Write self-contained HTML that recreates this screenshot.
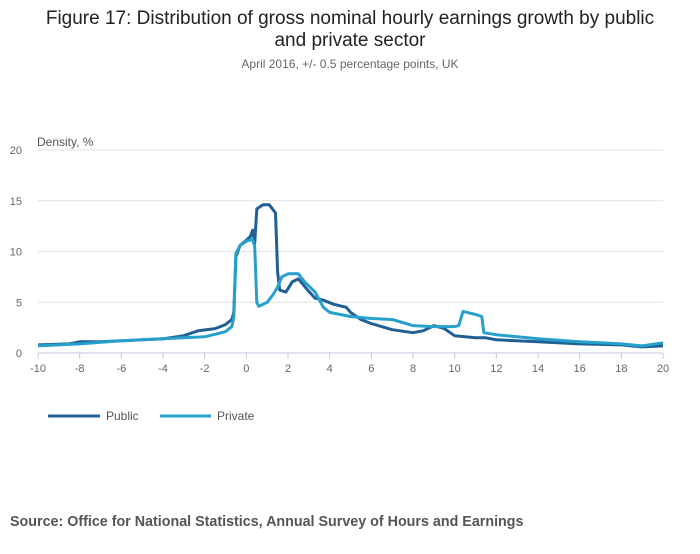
<!DOCTYPE html>
<html><head><meta charset="utf-8"><style>
body{margin:0;background:#fff;font-family:"Liberation Sans",sans-serif}
#wrap{position:relative;width:700px;height:549px}
</style></head><body>
<div id="wrap">
<svg id="c" width="700" height="549" font-family="Liberation Sans, sans-serif">
<text x="350" y="24" text-anchor="middle" font-size="19" fill="#222">Figure 17: Distribution of gross nominal hourly earnings growth by public</text>
<text x="350" y="46" text-anchor="middle" font-size="19" fill="#222">and private sector</text>
<text x="350" y="68" text-anchor="middle" font-size="12" fill="#666">April 2016, +/- 0.5 percentage points, UK</text>
<text x="37" y="146" font-size="12" fill="#555">Density, %</text>
<g id="grid"></g><g id="axes"></g><g id="series"></g>
<g>
<line x1="48" y1="416" x2="100" y2="416" stroke="#206095" stroke-width="3"/>
<text x="106" y="420" font-size="12" fill="#555">Public</text>
<line x1="160" y1="416" x2="211" y2="416" stroke="#27a0cc" stroke-width="3"/>
<text x="217" y="420" font-size="12" fill="#555">Private</text>
</g>
<text x="10" y="526" font-size="14.3" font-weight="bold" fill="#555">Source: Office for National Statistics, Annual Survey of Hours and Earnings</text>
</svg>
</div>
<script>
const xTicks=[-10,-8,-6,-4,-2,0,2,4,6,8,10,12,14,16,18,20];
const yTicks=[0,5,10,15,20];
const publicX=[-10,-8.5,-8,-7,-6,-5,-4,-3,-2.3,-1.5,-1,-0.7,-0.6,-0.5,-0.3,0,0.2,0.3,0.4,0.5,0.8,1.1,1.4,1.5,1.6,1.9,2.2,2.5,2.9,3.3,3.7,4.2,4.8,5,5.5,6,7,8,8.5,9,9.5,10,11,11.5,12,14,16,18,19,20];
const publicY=[0.8,0.9,1.1,1.1,1.2,1.3,1.4,1.7,2.2,2.4,2.8,3.3,4.0,9.5,10.6,11.1,11.5,12.1,10.8,14.2,14.6,14.6,13.8,8,6.2,6.0,7.0,7.3,6.3,5.4,5.2,4.8,4.5,4.0,3.3,2.9,2.3,2.0,2.2,2.7,2.4,1.7,1.5,1.5,1.3,1.1,0.9,0.8,0.6,0.7];
const privateX=[-10,-8,-6,-4,-2,-1,-0.7,-0.6,-0.5,-0.3,0,0.3,0.4,0.5,0.6,1,1.3,1.5,1.7,2,2.5,2.8,3.3,3.7,4,5,6,7,8,9,10,10.2,10.4,11,11.3,11.4,12,14,16,18,19,20];
const privateY=[0.7,0.9,1.2,1.4,1.6,2.1,2.6,3.5,9.8,10.6,11.0,11.2,10.5,5.0,4.6,5.0,5.8,6.5,7.5,7.8,7.8,7.0,6.0,4.5,4.0,3.6,3.4,3.3,2.7,2.6,2.6,2.7,4.1,3.8,3.6,2.0,1.8,1.4,1.1,0.9,0.7,1.0];
const NS="http://www.w3.org/2000/svg";
const sx=v=>38+(v+10)*(625/30);
const sy=v=>353-v*(203/20);
function mk(t,a,p){const e=document.createElementNS(NS,t);for(const k in a)e.setAttribute(k,a[k]);p.appendChild(e);return e;}
const grid=document.getElementById('grid'),axes=document.getElementById('axes'),ser=document.getElementById('series');
yTicks.forEach(v=>{
 if(v>0){const l=mk('line',{x1:38,x2:663,y1:sy(v),y2:sy(v),stroke:'#e2e2e2'},grid);
 
 }
 const t=mk('text',{x:22,y:sy(v)+4,'text-anchor':'end','font-size':11,fill:'#666'},axes);t.textContent=v;
 
 
});
const ax=mk('line',{x1:38,x2:663,y1:353,y2:353,stroke:'#bfc9dc'},axes);


xTicks.forEach(v=>{
 const tk=mk('line',{x1:sx(v),x2:sx(v),y1:353,y2:359,stroke:'#bfc9dc'},axes);
 
 
 const t=mk('text',{x:sx(v),y:372,'text-anchor':'middle','font-size':11,fill:'#666'},axes);t.textContent=v;
 
 
});
function line(xs,ys,c,n){
 const d=xs.map((x,i)=>(i?'L':'M')+sx(x).toFixed(1)+','+sy(ys[i]).toFixed(1)).join('');
 const p=mk('path',{d:d,fill:'none',stroke:c,'stroke-width':3,'stroke-linejoin':'round'},ser);
 
 
}
line(publicX,publicY,'#206095','public-series-line');
line(privateX,privateY,'#27a0cc','private-series-line');
</script>
</body></html>
